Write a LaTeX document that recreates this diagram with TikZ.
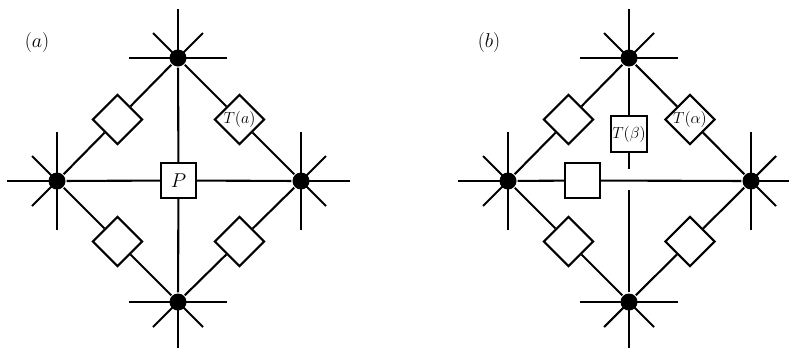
\RequirePackage{fix-cm}
\documentclass[tikz,border=0pt]{standalone}
\usetikzlibrary{shapes.geometric}
\begin{document}
\begin{tikzpicture}[x=1pt,y=-1pt, line width=2.1pt,
  dot/.style={circle,fill=black,inner sep=0pt,minimum size=17pt},
  tfont/.style={font=\fontsize{16}{19}\selectfont},
  dia/.style={diamond,draw,fill=white,inner sep=0pt,minimum size=50pt,tfont},
  sq/.style={rectangle,draw,fill=white,inner sep=0pt,minimum size=35pt},
  lab/.style={font=\fontsize{20}{24}\selectfont}]
\useasboundingbox (0,0) rectangle (789,349);

% ---------- panel (a) ----------
\node[lab] (la) at (37,42) {$(a)$};
\node[dot] (aT) at (178,58) {};
\node[dot] (aL) at (57,181) {};
\node[dot] (aR) at (301,181) {};
\node[dot] (aB) at (178,302) {};
\node[dia] (aD1) at (117.5,119.5) {};
\node[dia] (aD2) at (239.5,119.5) {$T(a)$};
\node[dia] (aD3) at (117.5,241.5) {};
\node[dia] (aD4) at (239.5,241.5) {};
\node[sq,lab] (aP) at (178.5,180.5) {$P$};
\draw (aT) -- (aD1) -- (aL);
\draw (aT) -- (aD2) -- (aR);
\draw (aL) -- (aD3) -- (aB);
\draw (aR) -- (aD4) -- (aB);
\draw (aT) -- (aP) -- (aB);
\draw (aL) -- (aP) -- (aR);
% star arms
\draw (aT.center) -- ++(0,-49);
\draw (aT.center) ++(-49,0) -- ++(98,0);
\draw (aT.center) -- ++(-25,-25);
\draw (aT.center) -- ++(25,-25);
\draw (aB.center) -- ++(0,46);
\draw (aB.center) ++(-49,0) -- ++(98,0);
\draw (aB.center) -- ++(-25,25);
\draw (aB.center) -- ++(25,25);
\draw (aL.center) -- ++(-50,0);
\draw (aL.center) ++(0,-49) -- ++(0,98);
\draw (aL.center) -- ++(-25,-25);
\draw (aL.center) -- ++(-25,25);
\draw (aR.center) -- ++(49,0);
\draw (aR.center) ++(0,-49) -- ++(0,98);
\draw (aR.center) -- ++(25,-25);
\draw (aR.center) -- ++(25,25);

% ---------- panel (b) ----------
\node[lab] (lb) at (489,42) {$(b)$};
\node[dot] (bT) at (629,58) {};
\node[dot] (bL) at (508,181) {};
\node[dot] (bR) at (751,181) {};
\node[dot] (bB) at (629,302) {};
\node[dia] (bD1) at (568.5,119.5) {};
\node[dia] (bD2) at (690,119.5) {$T(\alpha)$};
\node[dia] (bD3) at (568.5,241.5) {};
\node[dia] (bD4) at (690,241.5) {};
\node[sq,tfont,minimum size=36pt] (bTb) at (629,134) {$T(\beta)$};
\node[sq] (bS) at (582.5,180.5) {};
\coordinate (bU) at (629,169);
\coordinate (bV) at (629,190);
\draw (bT) -- (bD1) -- (bL);
\draw (bT) -- (bD2) -- (bR);
\draw (bL) -- (bD3) -- (bB);
\draw (bR) -- (bD4) -- (bB);
\draw (bT) -- (bTb) -- (bU);
\draw (bV) -- (bB);
\draw (bL) -- (bS) -- (bR);
% star arms
\draw (bT.center) -- ++(0,-49);
\draw (bT.center) ++(-49,0) -- ++(98,0);
\draw (bT.center) -- ++(-25,-25);
\draw (bT.center) -- ++(25,-25);
\draw (bB.center) -- ++(0,46);
\draw (bB.center) ++(-49,0) -- ++(98,0);
\draw (bB.center) -- ++(-25,25);
\draw (bB.center) -- ++(25,25);
\draw (bL.center) -- ++(-50,0);
\draw (bL.center) ++(0,-49) -- ++(0,98);
\draw (bL.center) -- ++(-25,-25);
\draw (bL.center) -- ++(-25,25);
\draw (bR.center) -- ++(38,0);
\draw (bR.center) ++(0,-49) -- ++(0,98);
\draw (bR.center) -- ++(25,-25);
\draw (bR.center) -- ++(25,25);
\end{tikzpicture}
\end{document}
